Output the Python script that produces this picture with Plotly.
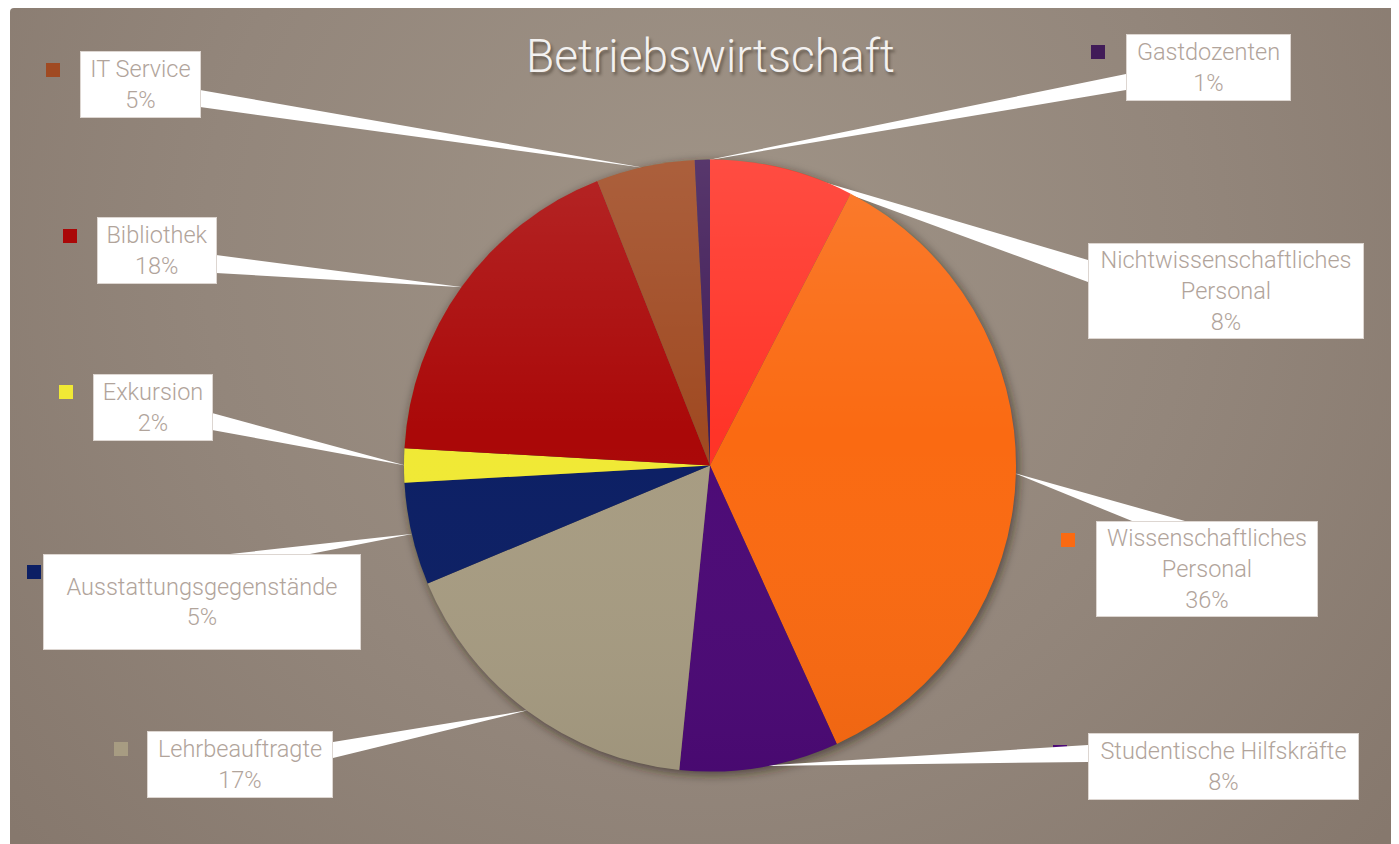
import base64
import math
import plotly.graph_objects as go

# ---------------- data ----------------
categories = [
    "Nichtwissenschaftliches<br>Personal",
    "Wissenschaftliches<br>Personal",
    "Studentische Hilfskräfte",
    "Lehrbeauftragte",
    "Ausstattungsgegenstände",
    "Exkursion",
    "Bibliothek",
    "IT Service",
    "Gastdozenten",
]
values = [7.6, 35.6, 8.4, 17.1, 5.4, 1.8, 18.1, 5.2, 0.8]
colors = ["#ff3428", "#fa6a12", "#4c0a76", "#a79c82", "#0c1f64",
          "#f0e935", "#aa0808", "#a04a22", "#411c58"]
title_text = "Betriebswirtschaft"

# ---------------- layout (page pixel geometry) ----------------
W, H = 1399, 844
OFF = 8  # page body margin
CX, CY, R = 710, 465.5, 306

def px(x):
    return (x - OFF) / W

def py(y):
    return 1 - (y - OFF) / H

# label boxes: (left, top, right, bottom)
boxes = [
    (1088, 243, 1363, 338),
    (1096, 521, 1317, 616),
    (1088, 733, 1358, 799),
    (148, 731, 333, 797),
    (44, 554, 361, 649),
    (93, 374, 212, 440),
    (97, 217, 216, 283),
    (80, 51, 200, 117),
    (1126, 34, 1290, 100),
]
# leader wedge base segments on the boxes
bases = [
    ((1088, 260), (1088, 282)),
    ((1132, 521), (1185, 521)),
    ((1088, 745), (1088, 762)),
    ((333, 742), (333, 758)),
    ((230, 554), (310, 554)),
    ((212, 413), (212, 430)),
    ((216, 255), (216, 273)),
    ((200, 90), (200, 107)),
    ((1126, 74), (1126, 90)),
]
# legend key squares (left, top)
keys = [
    (1054, 256), (1061, 533), (1053, 745), (114, 742), (27, 565),
    (59, 385), (63, 229), (46, 63), (1091, 45),
]
KEY = 14

# ---------------- background (radial gradient + pie shadow) ----------------
svg = f'''<svg xmlns="http://www.w3.org/2000/svg" width="{W}" height="{H}" viewBox="0 0 {W} {H}">
<defs>
<radialGradient id="bg" gradientUnits="userSpaceOnUse" cx="{700-OFF}" cy="{250-OFF}" r="900">
<stop offset="0" stop-color="#a09487"/>
<stop offset="0.55" stop-color="#93867b"/>
<stop offset="1" stop-color="#86786d"/>
</radialGradient>
<filter id="blur" x="-20%" y="-20%" width="140%" height="140%">
<feGaussianBlur stdDeviation="5"/>
</filter>
</defs>
<rect x="0" y="0" width="{W}" height="{H}" fill="#ffffff"/>
<rect x="{10-OFF}" y="0" width="{W}" height="{H}" rx="4" fill="url(#bg)"/>
<circle cx="{CX - OFF + 2}" cy="{CY - OFF + 3}" r="{R + 1}" fill="#2a2018" fill-opacity="0.55" filter="url(#blur)"/>
</svg>'''
bg_src = "data:image/svg+xml;base64," + base64.b64encode(svg.encode()).decode()

# light overlay for pie (top highlight)
ov = f'''<svg xmlns="http://www.w3.org/2000/svg" width="{2*R}" height="{2*R}" viewBox="0 0 {2*R} {2*R}">
<defs><linearGradient id="g" x1="0" y1="0" x2="0" y2="1">
<stop offset="0" stop-color="#ffffff" stop-opacity="0.12"/>
<stop offset="0.45" stop-color="#ffffff" stop-opacity="0"/>
<stop offset="1" stop-color="#000000" stop-opacity="0.05"/>
</linearGradient></defs>
<circle cx="{R}" cy="{R}" r="{R}" fill="url(#g)"/>
</svg>'''
ov_src = "data:image/svg+xml;base64," + base64.b64encode(ov.encode()).decode()

fig = go.Figure()
fig.add_trace(go.Pie(
    labels=categories,
    values=values,
    sort=False,
    direction="clockwise",
    rotation=0,
    marker=dict(colors=colors, line=dict(width=0)),
    textinfo="none",
    hoverinfo="label+percent",
    showlegend=False,
    domain=dict(x=[px(CX - R), px(CX + R)], y=[py(CY + R), py(CY - R)]),
))

shapes = []
# legend key squares
for (kx, ky), c in zip(keys, colors):
    shapes.append(dict(type="rect", xref="paper", yref="paper", layer="below",
                       x0=px(kx), x1=px(kx + KEY), y0=py(ky + KEY), y1=py(ky),
                       fillcolor=c, line=dict(width=0)))

# leader wedges toward slice midpoints
total = sum(values)
cum = 0
for v, (p1, p2) in zip(values, bases):
    mid = (cum + v / 2) / total * 2 * math.pi
    cum += v
    tx = CX + R * 0.995 * math.sin(mid)
    ty = CY - R * 0.995 * math.cos(mid)
    path = (f"M {px(p1[0])},{py(p1[1])} L {px(tx)},{py(ty)} "
            f"L {px(p2[0])},{py(p2[1])} Z")
    shapes.append(dict(type="path", xref="paper", yref="paper", layer="below",
                       path=path, fillcolor="#ffffff", line=dict(width=0)))

annotations = []
for cat, v, (l, t, r, b) in zip(categories, values, boxes):
    pct = f"{int(v / total * 100 + 0.5)}%"
    annotations.append(dict(
        xref="paper", yref="paper",
        x=px((l + r) / 2), y=py((t + b) / 2),
        xanchor="center", yanchor="middle",
        text=f"{cat}<br>{pct}", showarrow=False,
        width=r - l - 1, height=b - t - 1,
        align="center", valign="middle",
        bgcolor="#ffffff", bordercolor="#ddd6d1", borderwidth=1, borderpad=0,
        font=dict(family="Roboto", size=23.5, color="#b1a49b", weight=300),
    ))

annotations.append(dict(
    xref="paper", yref="paper", x=px(710), y=py(56),
    xanchor="center", yanchor="middle", showarrow=False,
    text=title_text,
    font=dict(family="Roboto", size=46, color="#f3f1f0", weight=300,
              shadow="2px 3px 3px rgba(40,30,20,0.45)"),
))

fig.update_layout(
    width=W, height=H,
    margin=dict(l=0, r=0, t=0, b=0),
    paper_bgcolor="#ffffff",
    plot_bgcolor="rgba(0,0,0,0)",
    images=[
        dict(source=bg_src, xref="paper", yref="paper", x=0, y=1,
             sizex=1, sizey=1, xanchor="left", yanchor="top",
             sizing="stretch", layer="below"),
        dict(source=ov_src, xref="paper", yref="paper", x=px(CX - R), y=py(CY - R),
             sizex=2 * R / W, sizey=2 * R / H, xanchor="left", yanchor="top",
             sizing="stretch", layer="above"),
    ],
    shapes=shapes,
    annotations=annotations,
)

fig.write_html("out.html")
